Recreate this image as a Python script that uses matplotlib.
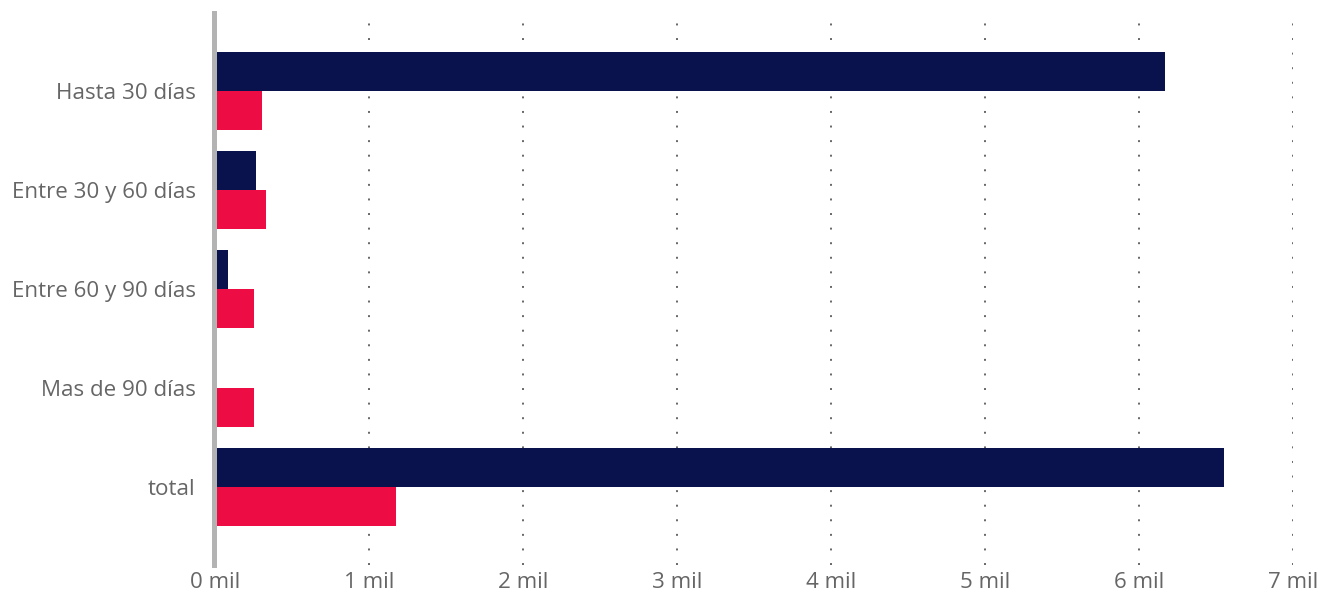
import matplotlib.pyplot as plt
import numpy as np

categories = ["Hasta 30 días", "Entre 30 y 60 días", "Entre 60 y 90 días", "Mas de 90 días", "total"]
serie_azul = [6.17, 0.265, 0.085, 0.0, 6.55]
serie_roja = [0.305, 0.33, 0.253, 0.253, 1.175]
xticks = [0, 1, 2, 3, 4, 5, 6, 7]
xtick_labels = [f"{t} mil" for t in xticks]

plt.rcParams['font.family'] = ['Open Sans', 'DejaVu Sans']

fig = plt.figure(figsize=(13.2, 5.97), dpi=100)
ax = fig.add_axes([215 / 1320, 1 - 565 / 597, (1293 - 215) / 1320, (565 - 13) / 597])

y = np.arange(len(categories))
h = 0.395
ax.barh(y - h / 2, serie_azul, height=h, color='#0a124e', zorder=3)
ax.barh(y + h / 2, serie_roja, height=h, color='#ee0c45', zorder=3)

ax.set_xlim(0, 7)
ax.set_ylim(len(categories) - 1 + 0.79, -0.79)
ax.set_yticks(y)
ax.set_yticklabels(categories)
ax.set_xticks(xticks)
ax.set_xticklabels(xtick_labels)
ax.tick_params(axis='both', length=0, labelsize=16.1, labelcolor='#666666')
ax.tick_params(axis='y', pad=13)
ax.tick_params(axis='x', pad=5)

ax.xaxis.grid(True, linestyle=(0, (1, 6.5)), color='#666666', linewidth=1.4, zorder=0)
ax.yaxis.grid(False)

for s in ['top', 'right', 'bottom']:
    ax.spines[s].set_visible(False)
ax.spines['left'].set_color('#b3b3b3')
ax.spines['left'].set_linewidth(3.6)
ax.spines['left'].set_position(('outward', 1))
ax.spines['left'].set_zorder(4)

fig.savefig('out.png', dpi=100)
